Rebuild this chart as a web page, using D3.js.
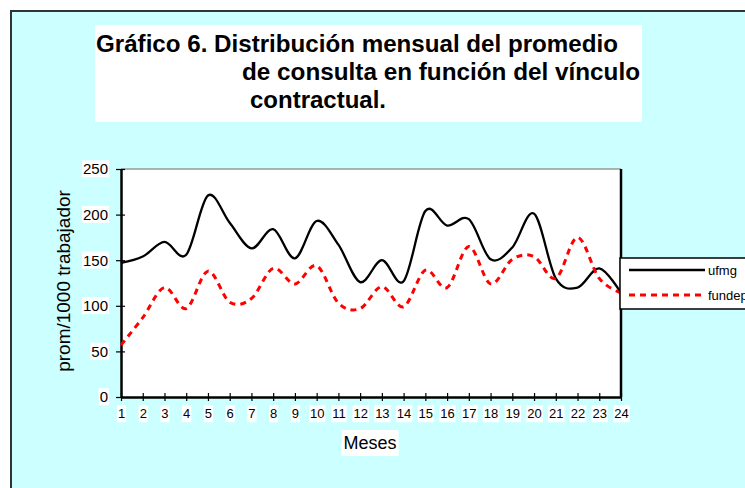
<!DOCTYPE html>
<html>
<head>
<meta charset="utf-8">
<script src="https://cdn.jsdelivr.net/npm/d3@7"></script>
<style>
  body { margin: 0; background: white; }
  svg { display: block; font-family: "Liberation Sans", Arial, sans-serif; }
</style>
</head>
<body>
<svg id="canvas"></svg>
<script>
// values (prom/1000 trabajador per month)
let months = d3.range(1, 25)
let ufmg = [147, 154, 170, 156, 221, 191, 163, 184, 152, 193, 167, 126,
            150, 127, 204, 188, 195, 151, 164, 201, 130, 120, 141, 114]
let fundep = [57, 87, 120, 97, 138, 104, 108, 141, 124, 144, 103, 97,
              121, 99, 139, 120, 165, 124, 151, 154, 130, 175, 130, 114]
let yTicks = [0, 50, 100, 150, 200, 250]
let seriesNames = ["ufmg", "fundep"]
let titleLines = ["Gráfico 6. Distribución mensual del promedio",
                  "de consulta en función del vínculo",
                  "contractual."]

let width = 745
let height = 488

let canvas = d3.select("#canvas")
               .attr("width", width)
               .attr("height", height)

// puts a white box behind every text of a selection (like the pasted excel labels)
let whiteBehind = (sel, padX, padY) => {
  sel.each(function () {
    let b = this.getBBox()
    d3.select(this.parentNode)
      .insert("rect", () => this)
      .attr("x", b.x - padX)
      .attr("y", b.y - padY)
      .attr("width", b.width + padX * 2)
      .attr("height", b.height + padY * 2)
      .attr("fill", "white")
  })
}

// cyan chart area and its frame
canvas.append("rect")
      .attr("width", width).attr("height", height)
      .attr("fill", "white")
canvas.append("rect")
      .attr("x", 11).attr("y", 11)
      .attr("width", 800).attr("height", 600)
      .attr("fill", "#ccffff")
      .attr("stroke", "#333")
      .attr("stroke-width", 2)

// title
canvas.append("rect")
      .attr("x", 95).attr("y", 25)
      .attr("width", 547).attr("height", 97)
      .attr("fill", "white")

let titleX = [96, 242, 250]
let titleW = [522, 398, 136]
canvas.selectAll(".title")
      .data(titleLines)
      .enter()
      .append("text")
      .attr("class", "title")
      .attr("x", (d, i) => titleX[i])
      .attr("y", (d, i) => 52 + i * 28)
      .attr("textLength", (d, i) => titleW[i])
      .attr("lengthAdjust", "spacingAndGlyphs")
      .attr("font-size", 23.5)
      .attr("font-weight", "bold")
      .text(d => d)

// plot area
let x = d3.scaleLinear().domain([1, 24]).range([121, 621])
let y = d3.scaleLinear().domain([0, 250]).range([397, 169])

canvas.append("rect")
      .attr("x", x(1)).attr("y", y(250))
      .attr("width", x(24) - x(1)).attr("height", y(0) - y(250))
      .attr("fill", "white")
canvas.append("line")
      .attr("x1", x(1)).attr("x2", x(24))
      .attr("y1", y(250)).attr("y2", y(250))
      .attr("stroke", "#999").attr("stroke-width", 1.5)
canvas.append("line")
      .attr("x1", x(24)).attr("x2", x(24))
      .attr("y1", y(250)).attr("y2", y(0))
      .attr("stroke", "black").attr("stroke-width", 2.5)

// axes
let yAxis = canvas.append("g")
                  .attr("transform", "translate(" + x(1) + ",0)")
                  .call(d3.axisLeft(y).tickValues(yTicks).tickSizeInner(5).tickSizeOuter(0).tickPadding(8))
let xAxis = canvas.append("g")
                  .attr("transform", "translate(0," + y(0) + ")")
                  .call(d3.axisBottom(x).tickValues(months).tickFormat(d3.format("d"))
                          .tickSizeInner(4).tickSizeOuter(0).tickPadding(8))

for (let ax of [yAxis, xAxis]) {
  ax.select(".domain").attr("stroke", "black").attr("stroke-width", 2.5)
  ax.selectAll(".tick line").attr("stroke", "black").attr("stroke-width", 1.2)
  ax.selectAll("text").attr("fill", "black").attr("font-family", "Liberation Sans, Arial, sans-serif")
}
yAxis.selectAll(".tick line").attr("x1", 4)
xAxis.selectAll(".tick line").attr("y1", -4)
yAxis.selectAll("text").attr("font-size", 15).attr("x", -13)
xAxis.selectAll("text").attr("font-size", 13).attr("y", 12)

whiteBehind(yAxis.selectAll("text"), 1, 0)
whiteBehind(xAxis.selectAll("text"), 1, 1)

// axis titles
let xTitle = canvas.append("text")
                   .attr("x", 370).attr("y", 449)
                   .attr("text-anchor", "middle")
                   .attr("font-size", 18)
                   .text("Meses")
let yTitle = canvas.append("text")
                   .attr("transform", "translate(70,281) rotate(-90)")
                   .attr("text-anchor", "middle")
                   .attr("font-size", 19)
                   .text("prom/1000 trabajador")
whiteBehind(xTitle, 2, 3)
whiteBehind(yTitle, 3, 3)

// lines (excel style smoothed)
let line = data => d3.line()
                     .x((d, i) => x(months[i]))
                     .y(d => y(d))
                     .curve(d3.curveCatmullRom.alpha(0))(data)

canvas.append("path")
      .attr("d", line(ufmg))
      .attr("fill", "none")
      .attr("stroke", "black")
      .attr("stroke-width", 2.3)
canvas.append("path")
      .attr("d", line(fundep))
      .attr("fill", "none")
      .attr("stroke", "red")
      .attr("stroke-width", 3)
      .attr("stroke-dasharray", "6,5")

// legend
canvas.append("rect")
      .attr("x", 620).attr("y", 258)
      .attr("width", 140).attr("height", 51)
      .attr("fill", "white")
      .attr("stroke", "black")
      .attr("stroke-width", 1.5)

let legend = canvas.selectAll(".legend")
                   .data(seriesNames)
                   .enter()
                   .append("g")
                   .attr("class", "legend")
                   .attr("transform", (d, i) => "translate(0," + (270 + i * 25) + ")")
legend.append("line")
      .attr("x1", 629).attr("x2", 705)
      .attr("stroke", (d, i) => i == 0 ? "black" : "red")
      .attr("stroke-width", (d, i) => i == 0 ? 2.3 : 3)
      .attr("stroke-dasharray", (d, i) => i == 0 ? null : "6,5")
legend.append("text")
      .attr("x", 708).attr("y", 5)
      .attr("font-size", 13)
      .text(d => d)
</script>
</body>
</html>
